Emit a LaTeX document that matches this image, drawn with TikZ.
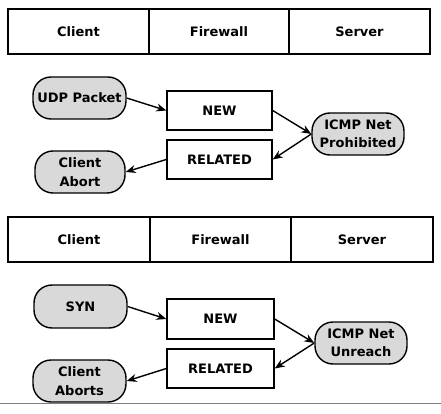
\documentclass[tikz,border=0pt]{standalone}
\usepackage{fontspec}
\setmainfont{DejaVu Sans}
\usetikzlibrary{arrows.meta}

\newcommand\Cli{Client}
\newcommand\Fw{Firewall}
\newcommand\Srv{Server}
\newcommand\Icmp{ICMP Net}

\begin{document}
\begin{tikzpicture}[x=1pt,y=-1pt,
        every node/.style={font=\fontsize{13}{18.5}\selectfont\bfseries,line width=1.4pt,inner sep=0pt,align=center},
        cell/.style={draw,minimum width=141pt,minimum height=45pt},
        state/.style={draw,minimum width=105pt,minimum height=39pt},
        ev/.style={draw,fill=gray!30,rounded corners=18pt,minimum width=93pt,minimum height=42pt},
        flow/.style={-{Stealth[length=10pt,width=8pt]},line width=1.4pt}]
        \useasboundingbox (0,0) rectangle (441,414);
        \node[cell] (cliA) at (78.5,31.5) {\Cli};
        \node[cell] (fwA) at (219,31.5) {\Fw};
        \node[cell] (srvA) at (359.5,31.5) {\Srv};
        \node[ev] (udp) at (79.5,98) {UDP Packet};
        \node[state] (newA) at (219.5,110.5) {NEW};
        \node[state] (relA) at (219.5,159.5) {RELATED};
        \node[ev,minimum width=92pt] (icmpA) at (358,134) {\Icmp\\Prohibited};
        \node[ev,minimum width=90pt] (abortA) at (80,172) {\Cli\\Abort};
        \draw[flow] (udp.east) -- (newA.west);
        \draw[flow] (newA.east) -- (icmpA.west);
        \draw[flow] (icmpA.west) -- (relA.east);
        \draw[flow] (relA.west) -- (abortA.east);
        \node[cell,minimum width=142pt] (cliB) at (79,239.5) {\Cli};
        \node[cell] (fwB) at (220.5,239.5) {\Fw};
        \node[cell,minimum width=142pt] (srvB) at (362,239.5) {\Srv};
        \node[ev,minimum height=43pt] (syn) at (80.5,306.5) {SYN};
        \node[state,minimum width=107pt,minimum height=40pt] (newB) at (220.5,319) {NEW};
        \node[state,minimum width=107pt] (relB) at (220.5,368.5) {RELATED};
        \node[ev,minimum width=92pt] (icmpB) at (361,343) {\Icmp\\Unreach};
        \node[ev] (abortB) at (79.5,381) {\Cli\\Aborts};
        \draw[flow] (syn.east) -- (newB.west);
        \draw[flow] (newB.east) -- (icmpB.west);
        \draw[flow] (icmpB.west) -- (relB.east);
        \draw[flow] (relB.west) -- (abortB.east);
        \coordinate (rimL) at (0,403);
        \coordinate (rimR) at (441,403);
        \draw[gray,line width=1pt] (rimL) -- (rimR);
\end{tikzpicture}
\end{document}
